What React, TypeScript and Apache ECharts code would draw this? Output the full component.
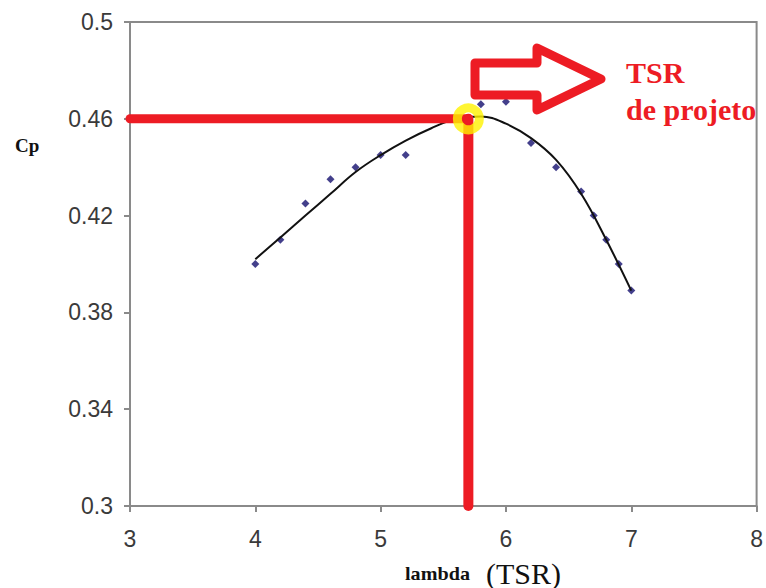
import React, { useEffect, useRef } from "react";
import * as echarts from "echarts";

// Measured power coefficient against tip speed ratio
const lambdaPoints = [4.0, 4.2, 4.4, 4.6, 4.8, 5.0, 5.2, 5.8, 6.0, 6.2, 6.4, 6.6, 6.7, 6.8, 6.9, 7.0];
const cpPoints = [0.4, 0.41, 0.425, 0.435, 0.44, 0.445, 0.445, 0.466, 0.467, 0.45, 0.44, 0.43, 0.42, 0.41, 0.4, 0.389];

// Fitted trend curve
const fitLambda = [4.0, 4.2, 4.4, 4.6, 4.8, 5.0, 5.2, 5.4, 5.6, 5.8, 6.0, 6.2, 6.4, 6.6, 6.8, 7.0];
const fitCp = [0.402, 0.411, 0.42, 0.429, 0.438, 0.445, 0.451, 0.456, 0.46, 0.461, 0.458, 0.452, 0.443, 0.429, 0.41, 0.389];

// Design operating point
const designTsr = 5.7;
const designCp = 0.46;

// Axis ticks
const xTicks = [3, 4, 5, 6, 7, 8];
const yTicks = [0.3, 0.34, 0.38, 0.42, 0.46, 0.5];

const RED = "#ED1C24";
const YELLOW = "#FFF200";
const AXIS_GREY = "#8a8a8a";

export default function App() {
  const ref = useRef<HTMLDivElement>(null);

  useEffect(() => {
    document.body.style.margin = "0";
    if (!ref.current) return;
    const chart = echarts.init(ref.current, undefined, { renderer: "svg" });

    const scatter = lambdaPoints.map((x, i) => [x, cpPoints[i]]);
    const fit = fitLambda.map((x, i) => [x, fitCp[i]]);

    chart.setOption({
      animation: false,
      backgroundColor: "#ffffff",
      grid: {
        left: 130,
        right: 6,
        top: 22,
        bottom: 82,
        show: true,
        borderColor: AXIS_GREY,
        borderWidth: 2,
        backgroundColor: "transparent",
      },
      xAxis: {
        type: "value",
        min: xTicks[0],
        max: xTicks[xTicks.length - 1],
        interval: 1,
        axisLine: { show: true, lineStyle: { color: AXIS_GREY, width: 2 } },
        axisTick: { show: true, length: 6, lineStyle: { color: AXIS_GREY, width: 2 } },
        splitLine: { show: false },
        axisLabel: {
          margin: 21,
          fontFamily: "Liberation Sans",
          fontSize: 23,
          color: "#3a3a3a",
          customValues: xTicks,
        },
      },
      yAxis: {
        type: "value",
        min: yTicks[0],
        max: yTicks[yTicks.length - 1],
        axisLine: { show: true, lineStyle: { color: AXIS_GREY, width: 2 } },
        axisTick: {
          show: true,
          length: 6,
          lineStyle: { color: AXIS_GREY, width: 2 },
          customValues: yTicks,
        },
        splitLine: { show: false },
        axisLabel: {
          margin: 17,
          fontFamily: "Liberation Sans",
          fontSize: 23,
          color: "#3a3a3a",
          customValues: yTicks,
        },
      },
      series: [
        {
          type: "scatter",
          data: scatter,
          symbol: "diamond",
          symbolSize: 8,
          itemStyle: { color: "#140f6e" },
          z: 2,
        },
        {
          type: "line",
          data: fit,
          smooth: 0.4,
          showSymbol: false,
          lineStyle: { color: "#111111", width: 2 },
          z: 3,
        },
        {
          type: "line",
          data: [
            [xTicks[0], designCp],
            [designTsr, designCp],
          ],
          showSymbol: false,
          clip: false,
          lineStyle: { color: RED, width: 9, cap: "round" },
          z: 4,
        },
        {
          type: "line",
          data: [
            [designTsr, designCp],
            [designTsr, yTicks[0]],
          ],
          showSymbol: false,
          clip: false,
          lineStyle: { color: RED, width: 10, cap: "round" },
          z: 4,
        },
        {
          type: "scatter",
          data: [[designTsr, designCp]],
          symbol: "circle",
          symbolSize: 22,
          itemStyle: { color: "rgba(0,0,0,0)", borderColor: YELLOW, borderWidth: 9 },
          z: 5,
        },
      ],
      graphic: [
        {
          type: "text",
          x: 15,
          y: 136,
          style: { text: "Cp", font: 'bold 19px "Liberation Serif"', fill: "#111111" },
        },
        {
          type: "text",
          x: 405,
          y: 565,
          scaleX: 1.12,
          style: { text: "lambda", font: 'bold 18px "Liberation Serif"', fill: "#111111" },
        },
        {
          type: "text",
          x: 486,
          y: 558,
          style: { text: "(TSR)", font: '30px "Liberation Serif"', fill: "#111111" },
        },
        {
          type: "polygon",
          shape: {
            points: [
              [475, 63],
              [537, 63],
              [537, 48],
              [601, 79],
              [537, 110],
              [537, 95],
              [475, 95],
            ],
          },
          style: { fill: "none", stroke: RED, lineWidth: 9, lineJoin: "round" },
          z: 10,
        },
        {
          type: "text",
          x: 626,
          y: 57,
          style: { text: "TSR", font: 'bold 30px "Liberation Serif"', fill: RED },
          z: 10,
        },
        {
          type: "text",
          x: 626,
          y: 94,
          style: { text: "de projeto", font: 'bold 30px "Liberation Serif"', fill: RED },
          z: 10,
        },
      ],
    });

    return () => chart.dispose();
  }, []);

  return <div ref={ref} style={{ width: 766, height: 588 }} />;
}
